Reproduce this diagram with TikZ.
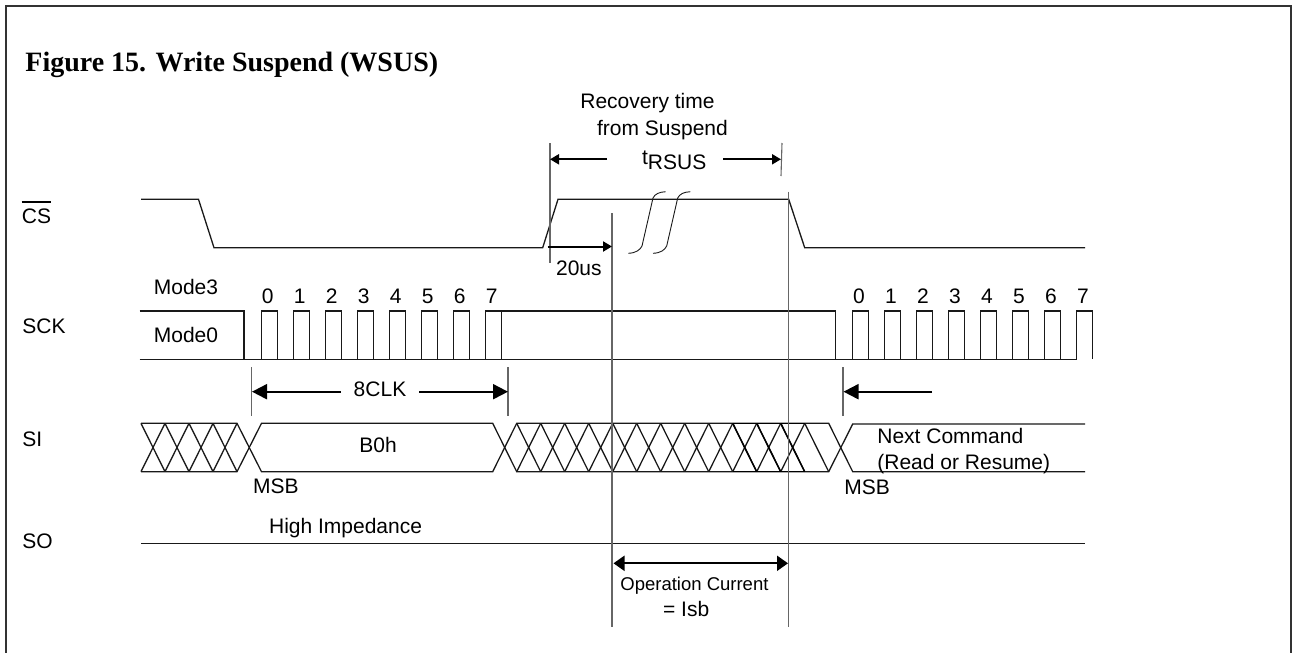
\documentclass[tikz,border=0pt]{standalone}
\usepackage{fontspec}
\setmainfont{Liberation Sans}
\newfontfamily\titlefont{Liberation Serif}
\usetikzlibrary{arrows.meta}
\tikzset{
    txt/.style={font=\fontsize{10.5pt}{12pt}\selectfont, inner sep=0pt, anchor=base west},
    num/.style={font=\fontsize{10.5pt}{12pt}\selectfont, inner sep=0pt, anchor=base},
    tick/.style={line width=0.55pt, black!60},
    dimbig/.style={line width=1pt, -{Triangle[length=7.5pt,width=7.5pt]}},
    dimsmall/.style={line width=1pt, -{Triangle[length=4.5pt,width=5pt]}},
    wave/.style={line width=0.65pt, black!90}
}
\begin{document}
\begin{tikzpicture}[x=0.5pt, y=-0.5pt]
    \useasboundingbox (0,0) rectangle (1292,653);
    % Frame
    \draw[line width=1pt, black!80] (6,653) -- (6,6) -- (1291,6) -- (1291,653);
    \node[txt, font=\titlefont\bfseries\fontsize{14pt}{16pt}\selectfont] (title) at (25,71.7) {Figure 15. Write Suspend (WSUS)};
    % Signal names
    \node[txt] (csname) at (21.5,223.3) {CS};
    \draw[line width=0.6pt] (csname.west |- 0,202) -- (csname.east |- 0,202);
    \node[txt] (sckname) at (22,333.3) {SCK};
    \node[txt] (siname) at (22,446) {SI};
    \node[txt] (soname) at (22,548.3) {SO};
    % CS
    \draw[wave] (141,199.3) -- (198.5,199.3) -- (214,247.7) -- (542.7,247.7) -- (558,199.3) -- (788.7,199.3) -- (804.7,247.7) -- (1085,247.7);
    \draw[wave, line width=0.45pt] (628.3,253.3) .. controls (636,253) and (640,250) .. (642,246) -- (653,198) .. controls (655,194) and (659,192) .. (665.7,191.7);
    \draw[wave, line width=0.45pt] (653,253.3) .. controls (660.7,253) and (664.7,250) .. (666.7,246) -- (677.7,198) .. controls (679.7,194) and (683.7,192) .. (690.4,191.7);
    % SCK
    \draw[wave] (139.5,311) -- (244,311) -- (244,359.3);
    \draw[wave] (139.5,359.3) -- (1076.7,359.3);
    \foreach \k in {0,...,7} {
        \draw[wave] ({261.3+32*\k},359.3) -- ({261.3+32*\k},311) -- ({277.3+32*\k},311) -- ({277.3+32*\k},359.3);
        \draw[wave] ({852.7+32*\k},359.3) -- ({852.7+32*\k},311) -- ({868.7+32*\k},311) -- ({868.7+32*\k},359.3);
        \node[num] (firstbit\k) at ({267.7+32*\k},303) {\k};
        \node[num] (secondbit\k) at ({859+32*\k},303) {\k};
    }
    \draw[wave] (501,311) -- (835.7,311) -- (835.7,359.3);
    \node[txt] (modethree) at (153.5,294) {Mode3};
    \node[txt] (modezero) at (153.5,342) {Mode0};
    % SI
    \draw[wave] (141,423.3) -- (237,423.3) -- (261.5,471.7) -- (492.7,471.7) -- (516.7,423.3) -- (828.7,423.3) -- (852.7,471.7) -- (1085,471.7);
    \draw[wave] (141,471.7) -- (237,471.7) -- (261.5,423.3) -- (492.7,423.3) -- (516.7,471.7) -- (828.7,471.7) -- (852.7,424) -- (1085,424);
    \foreach \k in {0,...,3} {
        \draw[wave] ({141+24*\k},423.3) -- ({165+24*\k},471.7);
        \draw[wave] ({141+24*\k},471.7) -- ({165+24*\k},423.3);
    }
    \foreach \k in {0,...,11} {
        \draw[wave] ({516.7+24*\k},423.3) -- ({540.7+24*\k},471.7);
        \draw[wave] ({516.7+24*\k},471.7) -- ({540.7+24*\k},423.3);
    }
    \draw[wave] (804.7,423.3) -- (828.7,471.7);
    % Darker part
    \draw[line width=0.75pt] (732.7,423.3) -- (804.7,423.3);
    \draw[line width=0.75pt] (732.7,471.7) -- (804.7,471.7);
    \foreach \k in {0,...,2} {
        \draw[line width=0.75pt] ({732.7+24*\k},423.3) -- ({756.7+24*\k},471.7);
    }
    \node[num] (bzero) at (378,452.7) {B0h};
    \node[txt] (msbone) at (252.7,493) {MSB};
    \node[txt] (msbtwo) at (844,494) {MSB};
    \node[txt] (nextcmd) at (877,443.3) {Next Command};
    \node[txt] (readres) at (877,469.3) {(Read or Resume)};
    % SO
    \draw[wave] (141,543.7) -- (1085,543.7);
    \node[txt] (hiz) at (268.7,533) {High Impedance};
    % Vertical markers
    \draw[tick] (550,143) -- (550,263);
    \draw[tick] (782,143) -- (781,176);
    \draw[tick] (612,213.3) -- (612,627.3);
    \draw[tick] (788.7,191.7) -- (788.7,627.3);
    \draw[tick] (251.7,367.3) -- (251.7,415.7);
    \draw[tick] (508,367.3) -- (508,415.7);
    \draw[tick] (843,367.3) -- (843,415.7);
    % Recovery time
    \node[txt] (recovery) at (580,108) {Recovery time};
    \node[txt] (fromsus) at (596.7,135) {from Suspend};
    \node[txt] (trsus) at (641.7,164) {t\raisebox{-2.6pt}{RSUS}};
    \coordinate (rsusleft) at (550,159.3);
    \coordinate (rsusright) at (781,159.3);
    \coordinate (rsusa) at (607,159.3);
    \coordinate (rsusb) at (723.3,159.3);
    \draw[dimsmall] (rsusa) -- (rsusleft);
    \draw[dimsmall] (rsusb) -- (rsusright);
    % 20us
    \coordinate (waitstart) at (547.5,246.5);
    \coordinate (waitend) at (612,246.5);
    \draw[dimsmall] (waitstart) -- (waitend);
    \node[txt] (waittime) at (555.7,275) {20us};
    % 8CLK
    \node[num] (eightclk) at (380,396.5) {8CLK};
    \coordinate (clkleft) at (252,391.7);
    \coordinate (clkright) at (508,391.7);
    \coordinate (clka) at (340.7,391.7);
    \coordinate (clkb) at (419.3,391.7);
    \draw[dimbig] (clka) -- (clkleft);
    \draw[dimbig] (clkb) -- (clkright);
    \coordinate (nextleft) at (843.5,391.7);
    \coordinate (nexta) at (932,391.7);
    \draw[dimbig] (nexta) -- (nextleft);
    % Operation current
    \coordinate (opleft) at (613.5,563.3);
    \coordinate (opright) at (788,563.3);
    \draw[line width=1pt, {Triangle[length=5.5pt,width=7.5pt]}-{Triangle[length=5.5pt,width=7.5pt]}] (opleft) -- (opright);
    \node[txt, font=\fontsize{9.25pt}{11pt}\selectfont] (opcurrent) at (620,590) {Operation Current};
    \node[txt] (isb) at (662.7,616.7) {= Isb};
\end{tikzpicture}
\end{document}
